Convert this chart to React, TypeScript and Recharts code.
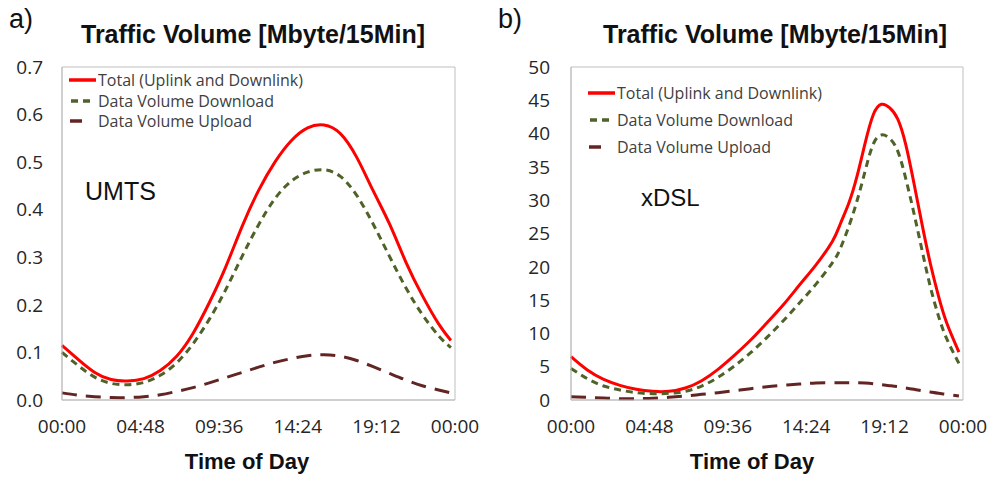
import React from 'react';
import { LineChart, Line, XAxis, YAxis, ReferenceArea } from 'recharts';

// hours of day (x)
const umtsHours = [0, 1, 2, 3, 4, 5, 6, 7, 8, 9, 10, 11, 12, 13, 14, 15, 16, 17, 18, 19, 20, 21, 22, 23, 23.75];
const umtsTotal = [0.115, 0.085, 0.058, 0.043, 0.04, 0.045, 0.062, 0.092, 0.14, 0.205, 0.28, 0.365, 0.44, 0.5, 0.545, 0.572, 0.578, 0.56, 0.51, 0.44, 0.37, 0.29, 0.22, 0.16, 0.125];
const umtsDown = [0.1, 0.072, 0.048, 0.035, 0.032, 0.037, 0.052, 0.078, 0.118, 0.17, 0.232, 0.302, 0.368, 0.423, 0.46, 0.479, 0.484, 0.47, 0.43, 0.37, 0.302, 0.236, 0.18, 0.135, 0.11];
const umtsUp = [0.015, 0.01, 0.007, 0.005, 0.005, 0.007, 0.011, 0.018, 0.026, 0.036, 0.047, 0.058, 0.069, 0.079, 0.087, 0.093, 0.095, 0.092, 0.083, 0.07, 0.056, 0.042, 0.03, 0.021, 0.015];

const dslHours = [0, 1, 2, 3, 4, 5, 6, 7, 8, 9, 10, 11, 12, 13, 14, 15, 16, 16.5, 17, 17.5, 18, 18.5, 19, 19.5, 20, 20.5, 21, 21.5, 22, 22.5, 23, 23.75];
const dslTotal = [6.5, 4.5, 3.1, 2.2, 1.6, 1.3, 1.3, 1.8, 2.9, 4.6, 6.7, 9.0, 11.6, 14.3, 17.3, 20.3, 23.8, 26.5, 29.5, 33.5, 38.5, 42.8, 44.4, 43.9, 42.2, 38.3, 32.5, 26.3, 20.5, 15.6, 11.6, 7.2];
const dslDown = [4.75, 3.2, 2.1, 1.5, 1.1, 0.95, 1.0, 1.3, 2.1, 3.4, 5.1, 7.1, 9.4, 11.9, 14.6, 17.4, 20.6, 22.8, 26.0, 29.8, 34.3, 38.4, 39.8, 39.3, 37.4, 33.2, 28.0, 22.4, 17.0, 12.6, 9.2, 5.5];
const dslUp = [0.5, 0.4, 0.3, 0.2, 0.2, 0.25, 0.4, 0.6, 0.85, 1.1, 1.4, 1.7, 2.0, 2.2, 2.4, 2.55, 2.6, 2.6, 2.6, 2.6, 2.55, 2.45, 2.3, 2.15, 2.0, 1.8, 1.6, 1.4, 1.2, 1.0, 0.85, 0.6];

const xTicks = [0, 4.8, 9.6, 14.4, 19.2, 24];
const xTickLabels = ['00:00', '04:48', '09:36', '14:24', '19:12', '00:00'];
const umtsTicks = [0, 0.1, 0.2, 0.3, 0.4, 0.5, 0.6, 0.7];
const dslTicks = [0, 5, 10, 15, 20, 25, 30, 35, 40, 45, 50];

const seriesNames = ['Total (Uplink and Downlink)', 'Data Volume Download', 'Data Volume Upload'];

const series = [
  { key: 'total', color: '#ff0000', dash: undefined as string | undefined, width: 3 },
  { key: 'down', color: '#4f6228', dash: '7 5', width: 3 },
  { key: 'up', color: '#632523', dash: '15 9', width: 3 },
];

const tickFont = { fill: '#262626', fontSize: 19, fontFamily: '"Open Sans", sans-serif' };

const makeRows = (hours: number[], t: number[], d: number[], u: number[]) =>
  hours.map((h, i) => ({ h, total: t[i], down: d[i], up: u[i] }));

interface PanelProps {
  rows: any[];
  left: number;
  width: number;
  yAxisWidth: number;
  yMax: number;
  yTicks: number[];
  fmt: (v: number) => string;
  legendTop: number;
  legendLeft: number;
  legendGap: number;
  tickGap: number;
}

const Panel: React.FC<PanelProps> = ({ rows, left, width, yAxisWidth, yMax, yTicks, fmt, legendTop, legendLeft, legendGap, tickGap }) => (
  <div style={{ position: 'absolute', left, top: 0, width, height: 479 }}>
    <LineChart width={width} height={479} data={rows} margin={{ top: 67, right: 26, bottom: 0, left: 0 }}>
      <XAxis
        dataKey="h"
        type="number"
        domain={[0, 24]}
        ticks={xTicks}
        tickFormatter={(v: number) => xTickLabels[xTicks.indexOf(v)]}
        height={79}
        tickSize={0}
        tickMargin={20}
        tick={tickFont}
        axisLine={{ stroke: '#bfbfbf' }}
        interval={0}
      />
      <YAxis
        type="number"
        domain={[0, yMax]}
        ticks={yTicks}
        tickFormatter={fmt}
        width={yAxisWidth}
        tickSize={0}
        tickMargin={tickGap}
        tick={tickFont}
        axisLine={{ stroke: '#bfbfbf' }}
        interval={0}
      />
      <ReferenceArea x1={0} x2={24} y1={0} y2={yMax} fill="none" stroke="#bfbfbf" strokeWidth={1} />
      {series.map(s => (
        <Line
          key={s.key}
          dataKey={s.key}
          type="natural"
          stroke={s.color}
          strokeWidth={s.width}
          strokeDasharray={s.dash}
          dot={false}
          isAnimationActive={false}
        />
      ))}
    </LineChart>
    <div style={{ position: 'absolute', top: legendTop, left: legendLeft, fontFamily: '"Open Sans", sans-serif', fontSize: 16, color: '#404040', whiteSpace: 'nowrap' }}>
      {series.map((s, i) => (
        <div key={s.key} style={{ height: legendGap, display: 'flex', alignItems: 'center' }}>
          <svg width={28} height={10} style={{ marginRight: 2 }}>
            {i === 2 ? (
              <line x1={2} y1={5} x2={14} y2={5} stroke={s.color} strokeWidth={3.5} />
            ) : (
              <line x1={i === 1 ? 3 : 1} y1={5} x2={i === 1 ? 25 : 28} y2={5} stroke={s.color} strokeWidth={3.5} strokeDasharray={s.dash} />
            )}
          </svg>
          <span>{seriesNames[i]}</span>
        </div>
      ))}
    </div>
  </div>
);

const titleStyle: React.CSSProperties = {
  position: 'absolute',
  fontFamily: '"Liberation Sans", Arial, sans-serif',
  fontWeight: 'bold',
  fontSize: 25,
  color: '#111',
  whiteSpace: 'nowrap',
  transform: 'translateX(-50%)',
};

const axisTitleStyle: React.CSSProperties = { ...titleStyle, fontSize: 22 };

const plainStyle: React.CSSProperties = {
  position: 'absolute',
  fontFamily: '"Liberation Sans", Arial, sans-serif',
  color: '#111',
  whiteSpace: 'nowrap',
};

export default function App() {
  const umtsRows = makeRows(umtsHours, umtsTotal, umtsDown, umtsUp);
  const dslRows = makeRows(dslHours, dslTotal, dslDown, dslUp);
  return (
    <div style={{ position: 'absolute', left: 0, top: 0, width: 989, height: 479, background: '#fff', overflow: 'hidden' }}>
      <Panel
        rows={umtsRows}
        left={0}
        width={481}
        yAxisWidth={62}
        yMax={0.7}
        yTicks={umtsTicks}
        fmt={(v: number) => v.toFixed(1)}
        legendTop={70}
        legendLeft={68}
        legendGap={20.5}
        tickGap={19}
      />
      <Panel
        rows={dslRows}
        left={490}
        width={499}
        yAxisWidth={81}
        yMax={50}
        yTicks={dslTicks}
        fmt={(v: number) => String(v)}
        legendTop={79}
        legendLeft={97}
        legendGap={27}
        tickGap={21}
      />
      <div style={{ ...plainStyle, left: 9, top: 4, fontSize: 27 }}>a)</div>
      <div style={{ ...plainStyle, left: 498, top: 4, fontSize: 27 }}>b)</div>
      <div style={{ ...titleStyle, left: 253, top: 20 }}>Traffic Volume [Mbyte/15Min]</div>
      <div style={{ ...titleStyle, left: 775, top: 20 }}>Traffic Volume [Mbyte/15Min]</div>
      <div style={{ ...axisTitleStyle, left: 247, top: 449 }}>Time of Day</div>
      <div style={{ ...axisTitleStyle, left: 752, top: 449 }}>Time of Day</div>
      <div style={{ ...plainStyle, left: 85, top: 177, fontSize: 25 }}>UMTS</div>
      <div style={{ ...plainStyle, left: 641, top: 184, fontSize: 24 }}>xDSL</div>
    </div>
  );
}
